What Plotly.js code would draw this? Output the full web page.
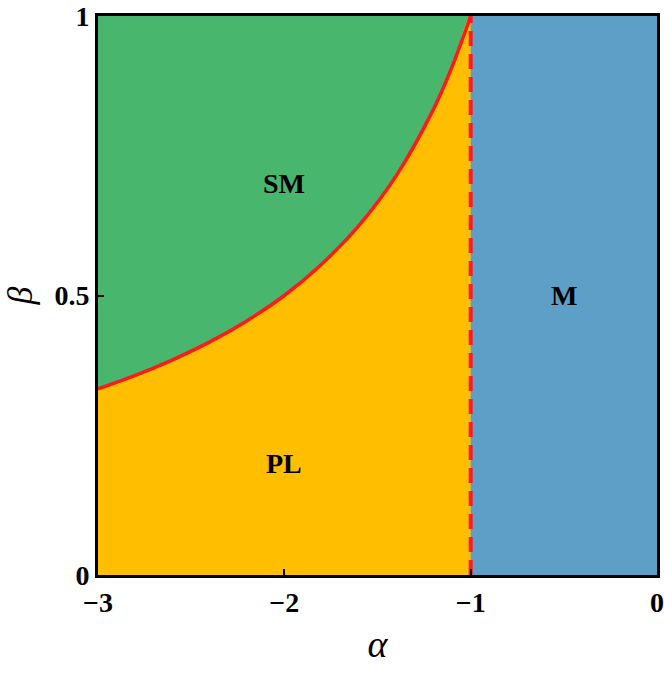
<!DOCTYPE html>
<html>
<head>
<meta charset="utf-8">
<script src="https://cdn.plot.ly/plotly-3.0.1.min.js"></script>
<style>html,body{margin:0;padding:0;background:#fff;}#chart{width:664px;height:674px;}</style>
</head>
<body>
<div id="chart"></div>
<script>
// Phase boundary (alpha, beta)
const boundaryAlpha = [-3, -2.8, -2.6, -2.4, -2.2, -2.0, -1.8, -1.6, -1.4, -1.2, -1.1, -1.0];
const boundaryBeta  = [0.333, 0.357, 0.385, 0.417, 0.455, 0.5, 0.556, 0.625, 0.714, 0.833, 0.909, 1.0];
// Critical vertical line
const criticalAlpha = [-1, -1];
const criticalBeta = [0, 1];
// Region corners
const mRegionAlpha = [-1, 0, 0, -1];
const mRegionBeta = [0, 0, 1, 1];
// Region labels
const regionNames = ["SM", "PL", "M"];
const regionAlpha = [-2.0, -2.0, -0.5];
const regionBeta = [0.7, 0.2, 0.5];
// Ticks
const xTicks = [-3, -2, -1, 0];
const yTicks = [0, 0.5, 1];
const yTickText = ["0", "0.5", "1"];

const serif = "Liberation Serif";

const greenX = boundaryAlpha.concat([-1, -3]);
const greenY = boundaryBeta.concat([1, 1]);
const yellowX = boundaryAlpha.concat([-1, -3]);
const yellowY = boundaryBeta.concat([0, 0]);

const traces = [
  {x: greenX, y: greenY, type: 'scatter', mode: 'lines', fill: 'toself',
   fillcolor: '#48b66d', line: {width: 0, color: '#48b66d', shape: 'spline'}, hoverinfo: 'skip'},
  {x: yellowX, y: yellowY, type: 'scatter', mode: 'lines', fill: 'toself',
   fillcolor: '#ffbe00', line: {width: 0, color: '#ffbe00', shape: 'spline'}, hoverinfo: 'skip'},
  {x: mRegionAlpha, y: mRegionBeta, type: 'scatter', mode: 'lines', fill: 'toself',
   fillcolor: '#5d9fc7', line: {width: 0, color: '#5d9fc7'}, hoverinfo: 'skip'},
  {x: boundaryAlpha, y: boundaryBeta, type: 'scatter', mode: 'lines',
   line: {color: '#ff1a1a', width: 3.5, shape: 'spline'}},
  {x: criticalAlpha, y: criticalBeta, type: 'scatter', mode: 'lines',
   line: {color: '#ff1a1a', width: 4, dash: '15px,8px'}}
];

const annotations = regionNames.map((t, i) => ({
  x: regionAlpha[i], y: regionBeta[i], xref: 'x', yref: 'y', text: '<b>' + t + '</b>', showarrow: false,
  font: {family: serif, size: 28, color: '#000'}
}));

const layout = {
  width: 664, height: 674,
  margin: {l: 98, r: 7, t: 16, b: 99},
  paper_bgcolor: '#fff', plot_bgcolor: '#fff',
  showlegend: false,
  xaxis: {
    range: [-3, 0], tickvals: xTicks, ticks: 'inside', ticklen: 6, tickwidth: 2, tickcolor: '#000',
    showgrid: false, zeroline: false, showline: true, mirror: true, linewidth: 3, linecolor: '#000',
    tickfont: {family: serif, size: 28, color: '#000', weight: 'bold'},
    title: {text: '<i>α</i>', font: {family: serif, size: 38, color: '#000'}, standoff: 14},
    layer: 'above traces'
  },
  yaxis: {
    range: [0, 1], tickvals: yTicks, ticktext: yTickText, ticks: 'inside', ticklen: 6, tickwidth: 2, tickcolor: '#000',
    showgrid: false, zeroline: false, showline: true, mirror: true, linewidth: 3, linecolor: '#000',
    tickfont: {family: serif, size: 28, color: '#000', weight: 'bold'},
    title: {text: '<i>β</i>', font: {family: serif, size: 36, color: '#000'}, standoff: 18},
    layer: 'above traces'
  },
  annotations: annotations
};

Plotly.newPlot('chart', traces, layout, {displayModeBar: false, staticPlot: true});
</script>
</body>
</html>
